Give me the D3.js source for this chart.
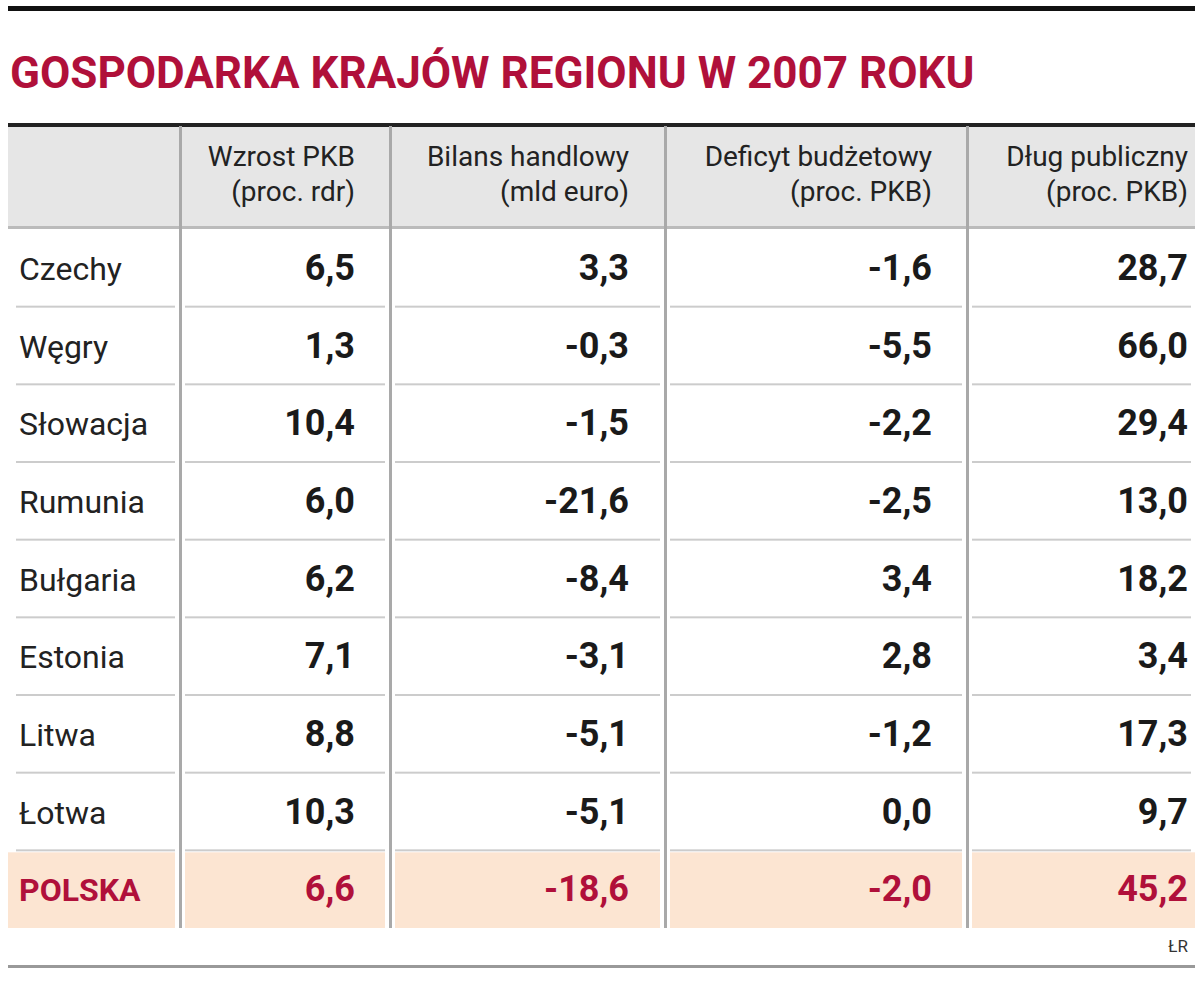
<!DOCTYPE html>
<html><head><meta charset="utf-8">
<script src="https://cdn.jsdelivr.net/npm/d3@7"></script>
<style>body{margin:0;background:#fff}svg{display:block}text{font-family:"Liberation Sans Narrow","Roboto",sans-serif}</style>
</head><body><svg id="c" width="1200" height="986"></svg>
<script>
const title = "GOSPODARKA KRAJÓW REGIONU W 2007 ROKU";
const headers = [["Wzrost PKB","(proc. rdr)"],["Bilans handlowy","(mld euro)"],["Deficyt budżetowy","(proc. PKB)"],["Dług publiczny","(proc. PKB)"]];
const countries = ["Czechy","Węgry","Słowacja","Rumunia","Bułgaria","Estonia","Litwa","Łotwa","POLSKA"];
const gdpGrowth = ["6,5","1,3","10,4","6,0","6,2","7,1","8,8","10,3","6,6"];
const tradeBalance = ["3,3","-0,3","-1,5","-21,6","-8,4","-3,1","-5,1","-5,1","-18,6"];
const budgetDeficit = ["-1,6","-5,5","-2,2","-2,5","3,4","2,8","-1,2","0,0","-2,0"];
const publicDebt = ["28,7","66,0","29,4","13,0","18,2","3,4","17,3","9,7","45,2"];
const source = "ŁR";

const svg = d3.select("#c");
const red = "#b0103a";
const colX = [8,179,389,664,966,1195]; // column boundaries
const textRight = [null,355,629,932,1188];
const series = [gdpGrowth,tradeBalance,budgetDeficit,publicDebt];

svg.append("rect").attr("x",8).attr("y",6).attr("width",1187).attr("height",5).attr("fill","#111");
svg.append("text").attr("x",10).attr("y",88).attr("fill",red).attr("font-size",44).attr("font-weight","bold").text(title);

// header
svg.append("rect").attr("x",8).attr("y",126).attr("width",1187).attr("height",101).attr("fill","#e6e6e6");
svg.append("rect").attr("x",8).attr("y",123).attr("width",1187).attr("height",4).attr("fill","#222");
headers.forEach((h,i)=>{
  h.forEach((l,j)=>svg.append("text").attr("x",textRight[i+1]).attr("y",166+j*35).attr("text-anchor","end")
    .attr("font-size",28).attr("fill","#222").text(l));
});
svg.append("rect").attr("x",8).attr("y",226).attr("width",1187).attr("height",3).attr("fill","#bbb");

const y = d3.scaleBand().domain(countries).range([229,928]);
const last = countries[countries.length-1];
// highlight row
for(let c=0;c<5;c++){
  svg.append("rect").attr("x",colX[c]+(c?6:0)).attr("y",y(last)+2).attr("width",colX[c+1]-colX[c]-(c?6:0)-(c<4?4:0))
    .attr("height",y.bandwidth()-2).attr("fill","#fce5d2");
}
countries.forEach((cn,r)=>{
  const yy = y(cn), isP = cn===last;
  if(r>0) for(let c=0;c<5;c++){
    svg.append("rect").attr("x",colX[c]+(c?6:8)).attr("y",yy-1).attr("width",colX[c+1]-colX[c]-(c?10:12)).attr("height",2).attr("fill","#ccc");
  }
  const cy = yy+y.bandwidth()/2+12;
  svg.append("text").attr("x",19).attr("y",cy).attr("font-size",isP?32:32).attr("font-weight",isP?"bold":"normal")
    .attr("fill",isP?red:"#222").text(cn);
  series.forEach((s,i)=>svg.append("text").attr("x",textRight[i+1]).attr("y",cy).attr("text-anchor","end")
    .attr("font-size",36).attr("font-weight","bold").attr("fill",isP?red:"#1a1a1a").text(s[r]));
});
// vertical separators
colX.slice(1,5).forEach(x=>svg.append("rect").attr("x",x).attr("y",126).attr("width",3).attr("height",802).attr("fill","#a9a9a9"));
svg.append("text").attr("x",1188).attr("y",952).attr("text-anchor","end").attr("font-size",17).attr("fill","#333").text(source);
svg.append("rect").attr("x",8).attr("y",965).attr("width",1187).attr("height",3).attr("fill","#999");
</script></body></html>
